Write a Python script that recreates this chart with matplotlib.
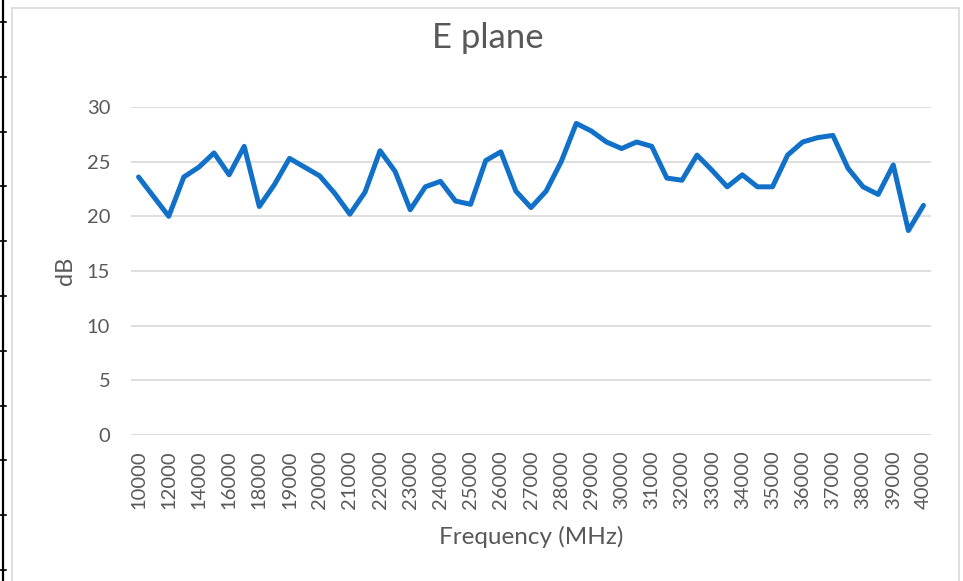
import matplotlib
matplotlib.use("Agg")
import matplotlib.pyplot as plt
from matplotlib.lines import Line2D
from matplotlib.patches import Rectangle

# Measured E-plane gain versus frequency
freq_mhz = [10000, 11000, 12000, 13000, 14000, 15000, 16000, 17000, 18000,
            18500, 19000, 19500, 20000, 20500, 21000, 21500, 22000, 22500,
            23000, 23500, 24000, 24500, 25000, 25500, 26000, 26500, 27000,
            27500, 28000, 28500, 29000, 29500, 30000, 30500, 31000, 31500,
            32000, 32500, 33000, 33500, 34000, 34500, 35000, 35500, 36000,
            36500, 37000, 37500, 38000, 38500, 39000, 39500, 40000]
gain_db = [23.6, 21.8, 20.0, 23.6, 24.5, 25.8, 23.8, 26.4, 20.9,
           22.9, 25.3, 24.5, 23.7, 22.1, 20.2, 22.2, 26.0, 24.1,
           20.6, 22.7, 23.2, 21.4, 21.1, 25.1, 25.9, 22.3, 20.8,
           22.3, 25.0, 28.5, 27.8, 26.8, 26.2, 26.8, 26.4, 23.5,
           23.3, 25.6, 24.2, 22.7, 23.8, 22.7, 22.7, 25.6, 26.8,
           27.2, 27.4, 24.4, 22.7, 22.0, 24.7, 18.7, 21.0]
y_ticks = [0, 5, 10, 15, 20, 25, 30]

title = "E plane"
x_title = "Frequency (MHz)"
y_title = "dB"

W, H = 963, 581
text_grey = "#595959"
grid_grey = "#D9D9D9"
line_blue = "#1170C8"

plt.rcParams["font.family"] = ["Lato", "DejaVu Sans"]

fig = plt.figure(figsize=(W / 100, H / 100), dpi=100)

def fx(px):
    return px / W

def fy(py):
    return 1 - py / H

# chart frame and the page rule on the left
fig.add_artist(Rectangle((fx(12), fy(600)), fx(959) - fx(12), fy(8) - fy(600),
                         transform=fig.transFigure, fill=False,
                         edgecolor="#D9D9D9", linewidth=1.2))
fig.add_artist(Line2D([fx(2.5), fx(2.5)], [0, 1], transform=fig.transFigure,
                      color="black", linewidth=1.6))
for k in range(11):
    yy = fy(22 + 54.8 * k)
    fig.add_artist(Line2D([0, fx(6)], [yy, yy], transform=fig.transFigure,
                          color="black", linewidth=1.2))

ax = fig.add_axes([fx(131), fy(435), fx(931) - fx(131), fy(107) - fy(435)])
idx = list(range(len(freq_mhz)))
ax.plot(idx, gain_db, color=line_blue, linewidth=3.6,
        solid_joinstyle="round", solid_capstyle="round", zorder=3)

ax.set_xlim(-0.5, len(freq_mhz) - 0.5)
ax.set_ylim(0, 30)
ax.set_yticks(y_ticks)
ax.set_xticks(idx[::2])
ax.set_xticklabels([str(f) for f in freq_mhz[::2]], rotation=90)
ax.grid(axis="y", color=grid_grey, linewidth=1.2)
ax.set_axisbelow(True)
for s in ax.spines.values():
    s.set_visible(False)
ax.tick_params(axis="both", length=0, colors=text_grey, labelsize=14.5)
ax.tick_params(axis="x", pad=11)
ax.tick_params(axis="y", pad=15)

fig.text(fx(488), fy(38), title, ha="center", va="center",
         fontsize=25, color=text_grey)
fig.text(fx(531), fy(537), x_title, ha="center", va="center",
         fontsize=17.5, color=text_grey)
fig.text(fx(65), fy(271), y_title, ha="center", va="center",
         rotation=90, fontsize=17, color=text_grey)

fig.savefig("out.png", dpi=100)
